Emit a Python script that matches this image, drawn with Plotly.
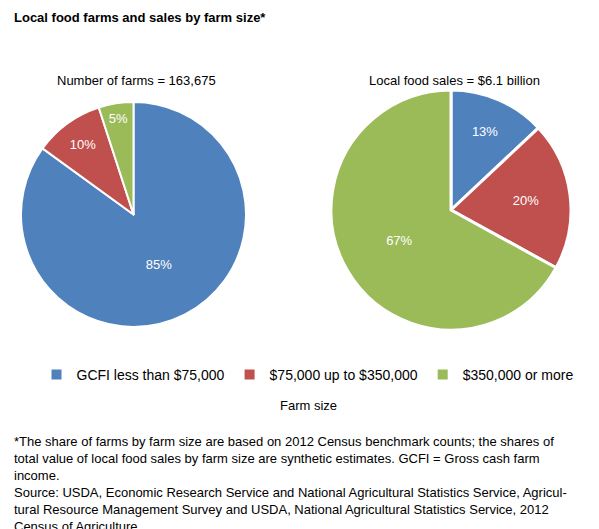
import plotly.graph_objects as go

categories = ["GCFI less than $75,000", "$75,000 up to $350,000", "$350,000 or more"]
farms_share = [85, 10, 5]
sales_share = [13, 20, 67]
colors = ["#4F81BD", "#C0504D", "#9BBB59"]

W, H = 599, 529
def px(x0, x1): return [x0 / W, x1 / W]
def py(y0, y1): return [1 - y1 / H, 1 - y0 / H]

fig = go.Figure()
fig.add_trace(go.Pie(labels=categories, values=farms_share, sort=False, direction="clockwise",
                     rotation=0, marker=dict(colors=colors, line=dict(color="white", width=2)),
                     texttemplate="%{value}%", textposition="inside",
                     textfont=dict(color="white", size=13), insidetextorientation="horizontal",
                     domain=dict(x=px(12, 239), y=py(94, 319)), hoverinfo="label+value"))
fig.add_trace(go.Pie(labels=categories, values=sales_share, sort=False, direction="clockwise",
                     rotation=0, marker=dict(colors=colors, line=dict(color="white", width=3)),
                     texttemplate="%{value}%", textposition="inside",
                     textfont=dict(color="white", size=13), insidetextorientation="horizontal",
                     domain=dict(x=px(323, 563), y=py(81, 323)), showlegend=False, hoverinfo="label+value"))

font = "Liberation Sans, Arial, sans-serif"
ann = [
    dict(x=4, y=10, text="<b>Local food farms and sales by farm size*</b>", size=13, xanchor="left"),
    dict(x=128, y=73, text="Number of farms = 163,675", size=13, xanchor="center"),
    dict(x=446, y=73, text="Local food sales = $6.1 billion", size=13, xanchor="center"),
    dict(x=300, y=397, text="Farm size", size=13, xanchor="center"),
]
for a in ann:
    fig.add_annotation(x=a["x"] / W, y=1 - a["y"] / H, xref="paper", yref="paper", text=a["text"],
                       showarrow=False, xanchor=a["xanchor"], yanchor="middle",
                       font=dict(size=a["size"], color="black", family=font))
foot = ("*The share of farms by farm size are based on 2012 Census benchmark counts; the shares of<br>"
        "total value of local food sales by farm size are synthetic estimates. GCFI = Gross cash farm<br>"
        "income.<br>"
        "Source: USDA, Economic Research Service and National Agricultural Statistics Service, Agricul-<br>"
        "tural Resource Management Survey and USDA, National Agricultural Statistics Service, 2012<br>"
        "Census of Agriculture.")
fig.add_annotation(x=4 / W, y=1 - 424 / H, xref="paper", yref="paper", text=foot, showarrow=False,
                   xanchor="left", yanchor="top", align="left",
                   font=dict(size=13, color="black", family=font))

fig.update_layout(width=W, height=H, margin=dict(l=0, r=0, t=0, b=0),
                  paper_bgcolor="white", plot_bgcolor="white",
                  font=dict(family=font, color="black"),
                  legend=dict(orientation="h", x=0.5, xanchor="center", y=1 - 367 / H, yanchor="middle",
                              font=dict(size=14), itemwidth=30, traceorder="normal"))
fig.write_html("out.html")
